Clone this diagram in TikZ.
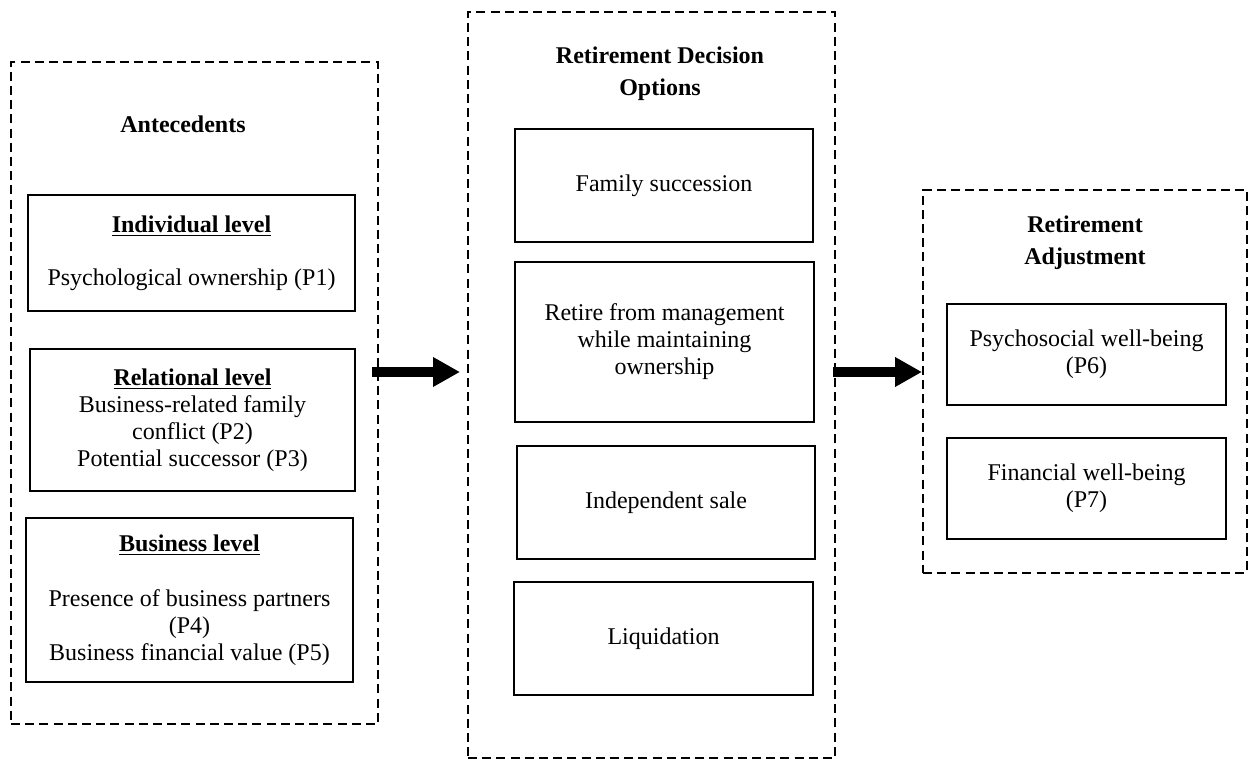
\documentclass[tikz,border=0pt]{standalone}
\usepackage{fontspec}
\setmainfont{Liberation Serif}
\usetikzlibrary{arrows.meta,calc}
\begin{document}
\begin{tikzpicture}[x=0.5pt,y=-0.5pt,
  group/.style={draw, line width=1.3pt, dash pattern=on 4.5pt off 2.6pt, inner sep=0pt, outer sep=0pt},
  solidbox/.style={draw, line width=1.4pt, align=center, inner sep=0pt, outer sep=0pt,
    font=\fontsize{12}{13.5}\selectfont},
  grouptitle/.style={font=\bfseries\fontsize{12}{16}\selectfont, align=center},
  bigarrow/.style={line width=5pt, -{Triangle[length=13.5pt 0 0,width=14pt 0 0]}}]
\useasboundingbox (0,0) rectangle (1249,759);

% dashed groups
\node[group, minimum width=183.5pt, minimum height=331pt] (ant) at (194.5,393) {};
\node[group, minimum width=183.5pt, minimum height=373pt] (opt) at (651.5,385) {};
\node[group, minimum width=162pt, minimum height=191.5pt] (adj) at (1085,381.5) {};

% titles
\node[grouptitle] (antt) at (183,124) {Antecedents};
\node[grouptitle] (optt) at (660,74) {Retirement Decision\\Options};
\node[grouptitle] (adjt) at (1085,243) {Retirement\\Adjustment};

% antecedents
\node[solidbox, minimum width=163.5pt, minimum height=58pt] (ind) at (191.5,253)
  {\textbf{\underline{Individual level}}\\[13pt]Psychological ownership (P1)};
\node[solidbox, minimum width=162.5pt, minimum height=71pt] (rel) at (192.5,420)
  {\textbf{\underline{Relational level}}\\Business-related family\\conflict (P2)\\Potential successor (P3)};
\node[solidbox, minimum width=163.5pt, minimum height=82pt] (bus) at (189.5,600)
  {\textbf{\underline{Business level}}\\[14pt]Presence of business partners\\(P4)\\Business financial value (P5)};

% options
\node[solidbox, minimum width=149pt, minimum height=56.5pt] (fam) at (664,185.5) {Family succession};
\node[solidbox, minimum width=149.5pt, minimum height=80pt] (ret) at (664.5,342)
  {Retire from management\\while maintaining\\ownership};
\node[solidbox, minimum width=149pt, minimum height=56.5pt] (sale) at (666,502.5) {Independent sale};
\node[solidbox, minimum width=149.5pt, minimum height=56.5pt] (liq) at (663.5,638.5) {Liquidation};

% adjustment
\node[solidbox, minimum width=139.5pt, minimum height=50.5pt] (psy) at (1086.5,354.5)
  {Psychosocial well-being\\(P6)};
\node[solidbox, minimum width=139.5pt, minimum height=50.5pt] (fin) at (1086.5,488.5)
  {Financial well-being\\(P7)};

% arrows
\draw[bigarrow] ($(ant.east |- 0,372)+(-6,0)$) -- ($(opt.west |- 0,372)+(-8,0)$);
\draw[bigarrow] ($(opt.east |- 0,372)+(-2,0)$) -- ($(adj.west |- 0,372)+(-1,0)$);
\end{tikzpicture}
\end{document}
